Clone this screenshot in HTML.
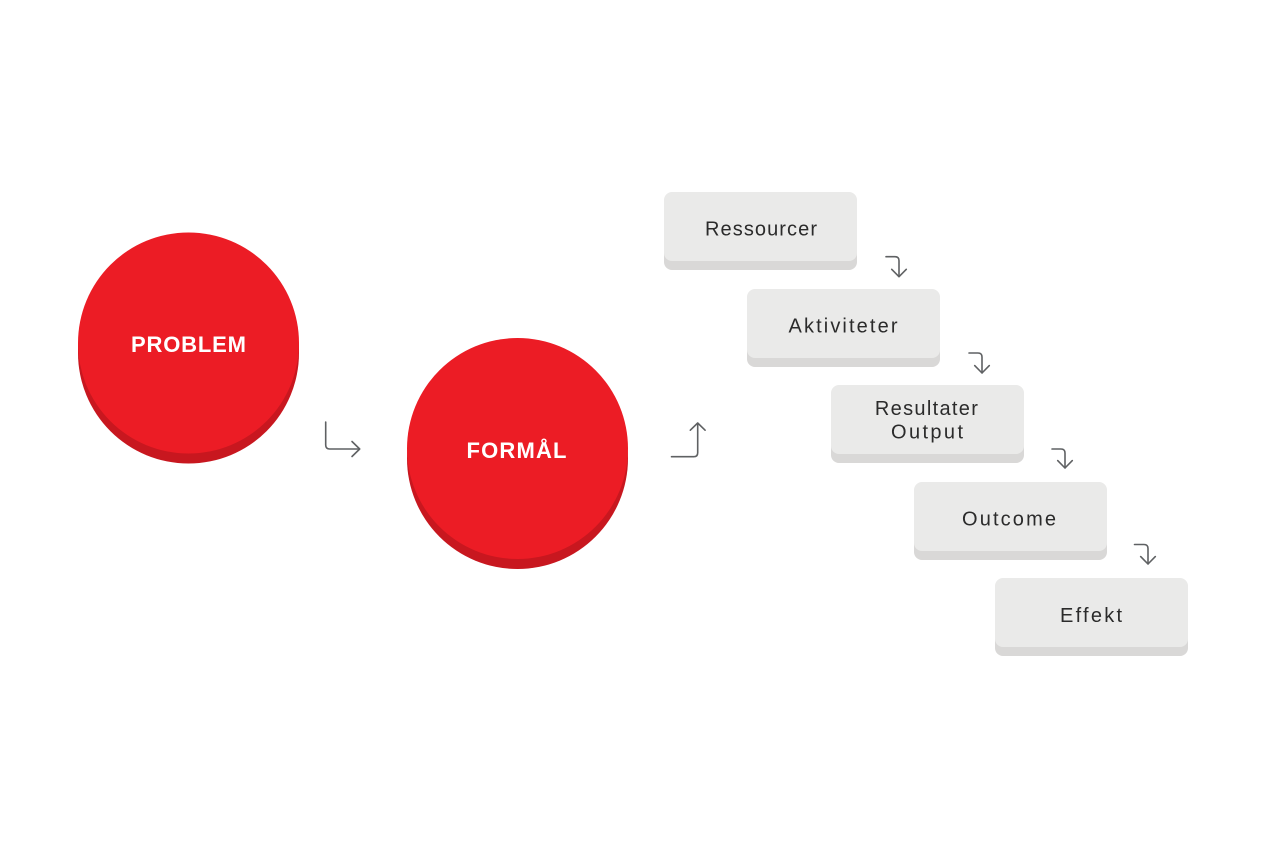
<!DOCTYPE html>
<html>
<head>
<meta charset="utf-8">
<style>
  html, body { margin: 0; padding: 0; background: #ffffff; }
  body { width: 1280px; height: 848px; overflow: hidden; }
  svg { display: block; }
  .lbl { font-family: "Liberation Sans", sans-serif; font-size: 20px; fill: #2b2b2b; }
  .big { font-family: "Liberation Sans", sans-serif; font-weight: bold; font-size: 22px; fill: #ffffff; letter-spacing: 1px; }
  .arr { fill: none; stroke: #5f6163; stroke-width: 1.6; stroke-linecap: round; stroke-linejoin: round; }
</style>
</head>
<body>
<svg width="1280" height="848" viewBox="0 0 1280 848" xmlns="http://www.w3.org/2000/svg">
  <!-- PROBLEM circle -->
  <circle cx="188.5" cy="353" r="110.5" fill="#c8171f"/>
  <rect x="78" y="343" width="221" height="10" fill="#c8171f"/>
  <circle cx="188.5" cy="343" r="110.5" fill="#ec1c25"/>
  <text class="big" x="189" y="352" text-anchor="middle" textLength="116" lengthAdjust="spacing">PROBLEM</text>

  <!-- FORMÅL circle -->
  <circle cx="517.5" cy="458.5" r="110.5" fill="#c8171f"/>
  <circle cx="517.5" cy="448.5" r="110.5" fill="#ec1c25"/>
  <text class="big" x="517" y="458" text-anchor="middle" textLength="101" lengthAdjust="spacing">FORMÅL</text>

  <!-- big arrow 1 -->
  <path class="arr" d="M325.7 422 V445 Q325.7 449 329.7 449 H359.5"/>
  <path class="arr" d="M352 441.5 L359.7 449 L352 456.5"/>

  <!-- big arrow 2 -->
  <path class="arr" d="M671.5 456.7 H693.7 Q697.7 456.7 697.7 452.7 V423.5"/>
  <path class="arr" d="M690.3 430.2 L697.7 423 L705.1 430.2"/>

  <!-- Boxes -->
  <g>
    <rect x="664" y="201" width="193" height="69" rx="8" fill="#d9d8d7"/>
    <rect x="664" y="192" width="193" height="69" rx="8" fill="#eaeae9"/>
    <text class="lbl" x="761" y="235.7" text-anchor="middle" textLength="112" lengthAdjust="spacing">Ressourcer</text>
  </g>
  <g>
    <rect x="747" y="298" width="193" height="69" rx="8" fill="#d9d8d7"/>
    <rect x="747" y="289" width="193" height="69" rx="8" fill="#eaeae9"/>
    <text class="lbl" x="843" y="332.5" text-anchor="middle" textLength="109" lengthAdjust="spacing">Aktiviteter</text>
  </g>
  <g>
    <rect x="831" y="394" width="193" height="69" rx="8" fill="#d9d8d7"/>
    <rect x="831" y="385" width="193" height="69" rx="8" fill="#eaeae9"/>
    <text class="lbl" x="926.4" y="415" text-anchor="middle" textLength="103" lengthAdjust="spacing">Resultater</text>
    <text class="lbl" x="927" y="438.3" text-anchor="middle" textLength="72" lengthAdjust="spacing">Output</text>
  </g>
  <g>
    <rect x="914" y="491" width="193" height="69" rx="8" fill="#d9d8d7"/>
    <rect x="914" y="482" width="193" height="69" rx="8" fill="#eaeae9"/>
    <text class="lbl" x="1009" y="525.3" text-anchor="middle" textLength="94" lengthAdjust="spacing">Outcome</text>
  </g>
  <g>
    <rect x="995" y="587" width="193" height="69" rx="8" fill="#d9d8d7"/>
    <rect x="995" y="578" width="193" height="69" rx="8" fill="#eaeae9"/>
    <text class="lbl" x="1091" y="622" text-anchor="middle" textLength="62" lengthAdjust="spacing">Effekt</text>
  </g>

  <!-- small arrows -->
  <g>
    <path class="arr" d="M886 256.7 H895 Q899 256.7 899 260.7 V276.5"/>
    <path class="arr" d="M891.7 269.3 L899 276.7 L906.3 269.3"/>
  </g>
  <g>
    <path class="arr" d="M969 353 H978 Q982 353 982 357 V372.8"/>
    <path class="arr" d="M974.7 365.6 L982 373 L989.3 365.6"/>
  </g>
  <g>
    <path class="arr" d="M1052 449 H1061 Q1065 449 1065 453 V467.8"/>
    <path class="arr" d="M1057.7 460.6 L1065 468 L1072.3 460.6"/>
  </g>
  <g>
    <path class="arr" d="M1134.5 544.5 H1144 Q1148 544.5 1148 548.5 V563.8"/>
    <path class="arr" d="M1140.7 556.6 L1148 564 L1155.3 556.6"/>
  </g>
</svg>
</body>
</html>
